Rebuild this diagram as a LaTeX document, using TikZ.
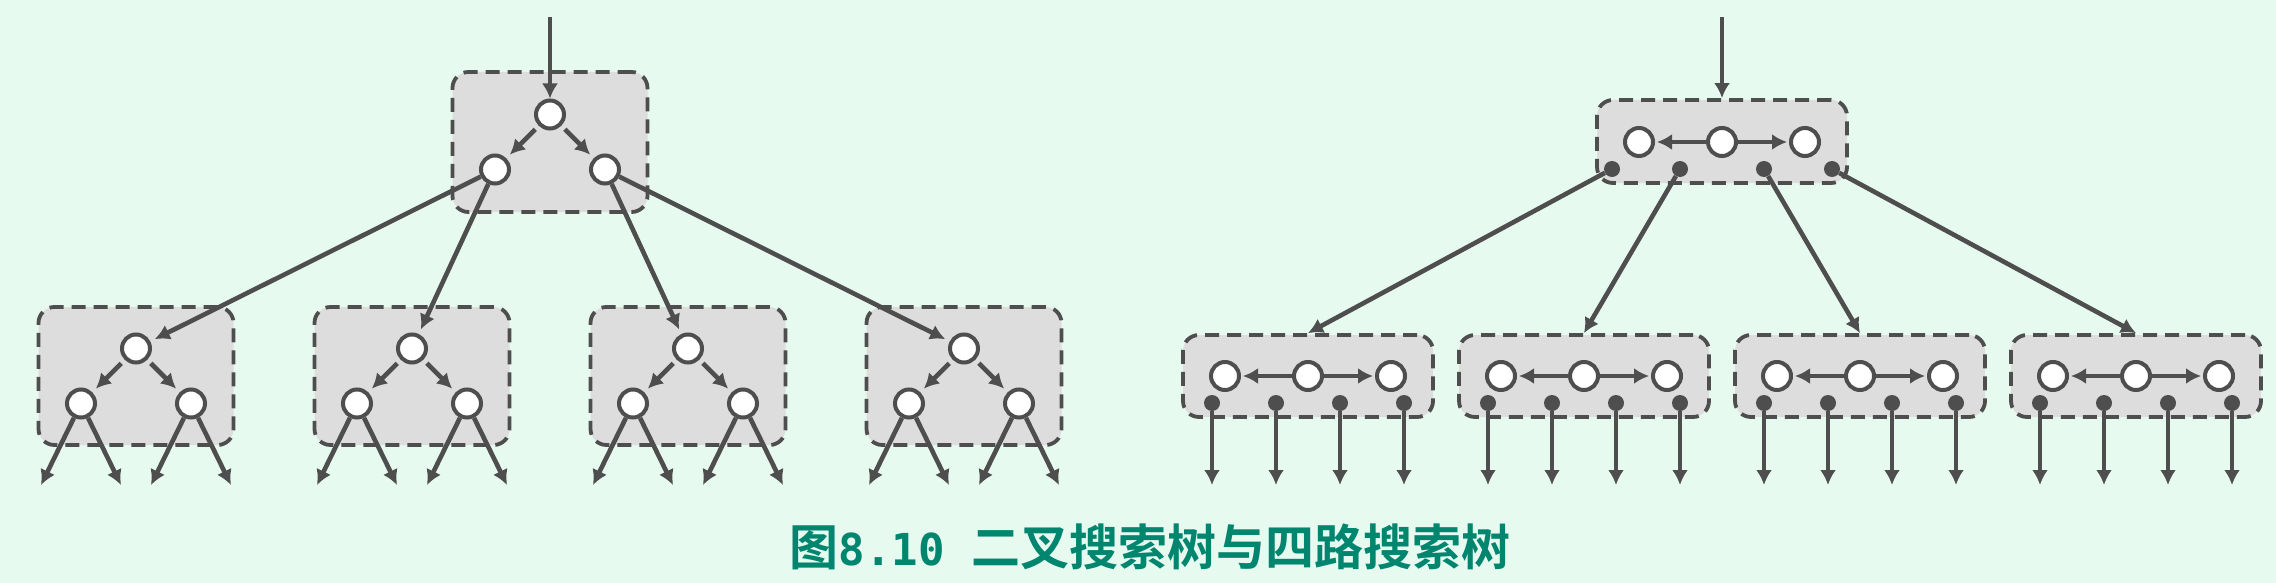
\documentclass[tikz,border=0pt]{standalone}
\usepackage{fontspec}
\usepackage{tikz}
\usetikzlibrary{arrows.meta,positioning}
\newfontfamily\cjkfont{Noto Sans CJK SC}[BoldFont={Noto Sans CJK SC Bold}]
\newfontfamily\capmono{DejaVu Sans Mono}
\definecolor{bg}{RGB}{230,250,240}
\definecolor{ink}{RGB}{78,78,78}
\definecolor{boxfill}{RGB}{221,221,221}
\definecolor{capcol}{RGB}{0,133,111}
\tikzset{>={Latex[length=15pt,width=16pt]},
         bbox/.style={draw=ink, fill=boxfill, line width=3.8pt,
           dash pattern=on 14pt off 8pt, rounded corners=16pt, inner sep=0pt},
         key/.style={circle, draw=ink, fill=white, line width=4pt,
           minimum size=28pt, inner sep=0pt},
         pin/.style={circle, fill=ink, minimum size=16pt, inner sep=0pt},
         link/.style={->, draw=ink, line width=4.6pt}}

\begin{document}
\begin{tikzpicture}[x=1pt,y=-1pt]
	  \fill[bg] (0,0) rectangle (2276,583);
	  \useasboundingbox (0,0) rectangle (2276,583);
	  % binary search tree
	  \node[bbox, minimum width=195pt, minimum height=140pt] (t) at (550,142) {};
	  \node[key] (t-r) at (550,114.5) {};
	  \node[key] (t-1) at (495,169.5) {};
	  \node[key] (t-2) at (605,169.5) {};
	  \coordinate (t-in) at (550,17);
	  \draw[link] (t-in) -- (t-r);
	  \draw[link, shorten <=5pt, shorten >=5pt] (t-r) -- (t-1);
	  \draw[link, shorten <=5pt, shorten >=5pt] (t-r) -- (t-2);
	  \foreach \i/\x in {1/136, 2/412, 3/688, 4/964} {
	    \node[bbox, minimum width=195pt, minimum height=138pt] (b\i) at (\x,376) {};
	    \node[key] (b\i-r) at (\x,348.5) {};
	    \node[key] (b\i-1) at (\x-55,403.5) {};
	    \node[key] (b\i-2) at (\x+55,403.5) {};
	    \draw[link, shorten <=5pt, shorten >=5pt] (b\i-r) -- (b\i-1);
	    \draw[link, shorten <=5pt, shorten >=5pt] (b\i-r) -- (b\i-2);
	    \coordinate (b\i-1a) at (\x-95,485);
	    \coordinate (b\i-1b) at (\x-15,485);
	    \coordinate (b\i-2a) at (\x+15,485);
	    \coordinate (b\i-2b) at (\x+95,485);
	    \draw[link] (b\i-1) -- (b\i-1a);
	    \draw[link] (b\i-1) -- (b\i-1b);
	    \draw[link] (b\i-2) -- (b\i-2a);
	    \draw[link] (b\i-2) -- (b\i-2b);
	  }
	  \draw[link, shorten >=5pt] (t-1) -- (b1-r);
	  \draw[link, shorten >=5pt] (t-1) -- (b2-r);
	  \draw[link, shorten >=5pt] (t-2) -- (b3-r);
	  \draw[link, shorten >=5pt] (t-2) -- (b4-r);
	  % four-way search tree
	  \node[bbox, minimum width=250pt, minimum height=83pt] (q) at (1722,141.5) {};
	  \node[key] (q-1) at (1639,142) {};
	  \node[key] (q-2) at (1722,142) {};
	  \node[key] (q-3) at (1805,142) {};
	  \draw[link, shorten >=2pt] (q-2) -- (q-1);
	  \draw[link, shorten >=2pt] (q-2) -- (q-3);
	  \foreach \j/\dx in {1/-110, 2/-42, 3/42, 4/110}
	    \node[pin] (q-p\j) at (1722+\dx,169) {};
	  \coordinate (q-in) at (1722,17);
	  \draw[link] (q-in) -- (q.north);
	  \foreach \i/\x in {1/1308, 2/1584, 3/1860, 4/2136} {
	    \node[bbox, minimum width=250pt, minimum height=82pt] (c\i) at (\x,376) {};
	    \node[key] (c\i-1) at (\x-83,376) {};
	    \node[key] (c\i-2) at (\x,376) {};
	    \node[key] (c\i-3) at (\x+83,376) {};
	    \draw[link, shorten >=2pt] (c\i-2) -- (c\i-1);
	    \draw[link, shorten >=2pt] (c\i-2) -- (c\i-3);
	    \foreach \j/\dx in {1/-96, 2/-32, 3/32, 4/96} {
	      \node[pin] (c\i-p\j) at (\x+\dx,403) {};
	      \coordinate (c\i-o\j) at (\x+\dx,485);
	      \draw[link] (c\i-p\j) -- (c\i-o\j);
	    }
	    \draw[link] (q-p\i) -- (c\i.north);
	  }
	  \node[text=capcol, inner sep=0pt] (cap) at (1150,547)
	    {\fontsize{49}{58}\selectfont\cjkfont\bfseries 图{\capmono\bfseries\fontsize{44}{52}\selectfont 8.10 }二叉搜索树与四路搜索树};
	\end{tikzpicture}
\end{document}
